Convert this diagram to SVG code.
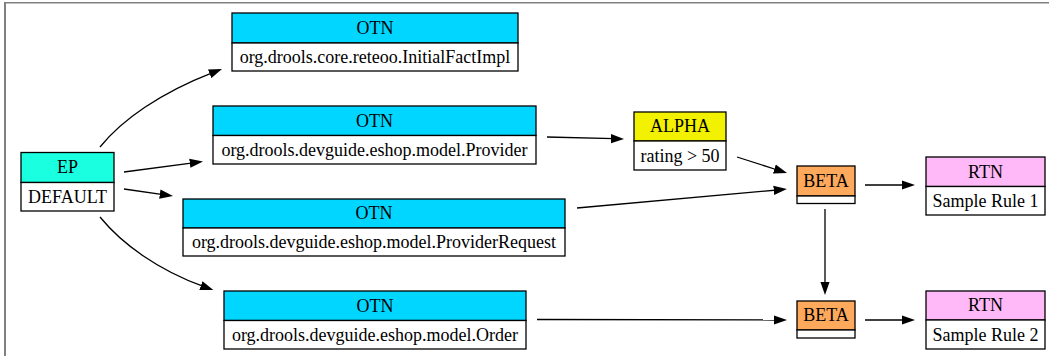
<svg xmlns="http://www.w3.org/2000/svg" width="1049" height="356" viewBox="0 0 1049 356">
<style>
  .box { stroke: #000; stroke-width: 1.3; }
  .body { fill: #fff; }
  .otn { fill: #00d6ff; }
  .ep { fill: #1affe0; }
  .alpha { fill: #f2f200; }
  .beta { fill: #ffa95c; }
  .rtn { fill: #ffb8f8; }
  text { font-family: "Liberation Serif", "DejaVu Serif", serif; font-size: 18px; fill: #000; text-anchor: middle; }
  .edge { fill: none; stroke: #000; stroke-width: 1.3; marker-end: url(#arrow); }
  .frame { stroke: #808080; fill: none; }
</style>
<defs>
  <marker id="arrow" markerUnits="userSpaceOnUse" markerWidth="14" markerHeight="10" refX="3.3" refY="5" orient="auto" viewBox="0 0 14 10">
    <path d="M0,0.35 L13.3,5 L0,9.65 z" fill="#000"/>
  </marker>
</defs>
<rect width="1049" height="356" fill="#fff"/>
<g id="frame">
  <line class="frame" x1="4" y1="2.7" x2="1049" y2="2.7" stroke-width="1.5"/>
  <line class="frame" x1="5" y1="2" x2="5" y2="356" stroke-width="2"/>
</g>
<g id="connectors">
  <path class="edge" d="M100,147 C122,120 160,93 212.7,72.6"/>
  <path class="edge" d="M124,172 L193.1,162.8"/>
  <path class="edge" d="M124,189 L163.1,194.6"/>
  <path class="edge" d="M100,217 C122,244 158,270 204,286.7"/>
  <path class="edge" d="M547,137 L614,138.7"/>
  <path class="edge" d="M737,157 L777.5,170"/>
  <path class="edge" d="M577,208 L777,190"/>
  <path class="edge" d="M537,319.5 L777,320"/>
  <path class="edge" d="M865,185 L905,185"/>
  <path class="edge" d="M865,320 L905,320"/>
  <path class="edge" d="M825,209 L825,285"/>
</g>
<g id="ep" font-family="Liberation Serif, serif">
  <rect class="box ep" x="21" y="152.5" width="93" height="30"/>
  <rect class="box body" x="21" y="182.5" width="93" height="28.5"/>
  <text x="67.5" y="173">EP</text>
  <text x="67.5" y="202.5">DEFAULT</text>
</g>
<g id="otn1">
  <rect class="box otn" x="232" y="13" width="286" height="30"/>
  <rect class="box body" x="232" y="43" width="286" height="28"/>
  <text x="375" y="33.5">OTN</text>
  <text x="375" y="63">org.drools.core.reteoo.InitialFactImpl</text>
</g>
<g id="otn2">
  <rect class="box otn" x="213" y="106" width="323" height="29.5"/>
  <rect class="box body" x="213" y="135.5" width="323" height="28.5"/>
  <text x="374.5" y="126.5">OTN</text>
  <text x="374.5" y="155.5">org.drools.devguide.eshop.model.Provider</text>
</g>
<g id="otn3">
  <rect class="box otn" x="183" y="199" width="382" height="29"/>
  <rect class="box body" x="183" y="228" width="382" height="28"/>
  <text x="374" y="219">OTN</text>
  <text x="374" y="248">org.drools.devguide.eshop.model.ProviderRequest</text>
</g>
<g id="otn4">
  <rect class="box otn" x="224" y="291" width="302" height="29.5"/>
  <rect class="box body" x="224" y="320.5" width="302" height="28.5"/>
  <text x="375" y="311.5">OTN</text>
  <text x="375" y="340.5">org.drools.devguide.eshop.model.Order</text>
</g>
<g id="alpha">
  <rect class="box alpha" x="634" y="112" width="92" height="29"/>
  <rect class="box body" x="634" y="141" width="92" height="29"/>
  <text x="680" y="132">ALPHA</text>
  <text x="680" y="161.5">rating &gt; 50</text>
</g>
<g id="beta1">
  <rect class="box beta" x="797" y="166" width="58" height="30"/>
  <rect class="box body" x="797" y="196" width="58" height="7.5"/>
  <text x="826" y="187">BETA</text>
</g>
<g id="beta2">
  <rect class="box beta" x="797" y="301" width="58" height="29"/>
  <rect class="box body" x="797" y="330" width="58" height="8"/>
  <text x="826" y="321">BETA</text>
</g>
<g id="rtn1">
  <rect class="box rtn" x="926" y="157" width="119" height="29.5"/>
  <rect class="box body" x="926" y="186.5" width="119" height="28.5"/>
  <text x="985.5" y="177.5">RTN</text>
  <text x="985.5" y="206.5">Sample Rule 1</text>
</g>
<g id="rtn2">
  <rect class="box rtn" x="926" y="291" width="119" height="29"/>
  <rect class="box body" x="926" y="320" width="119" height="29"/>
  <text x="985.5" y="311">RTN</text>
  <text x="985.5" y="340.5">Sample Rule 2</text>
</g>
</svg>
